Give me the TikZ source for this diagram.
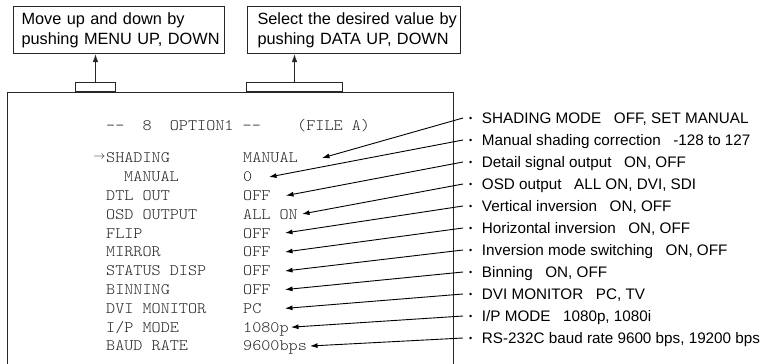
\documentclass[tikz,border=0pt]{standalone}
\usepackage{fontspec}
\setmainfont{Liberation Sans}
\newfontfamily\menufont{lmmonolt10-regular.otf}[FakeStretch=1.083]
\usetikzlibrary{arrows.meta}
\newcommand{\lbul}{\raisebox{1.6pt}{\fontsize{9}{9}\selectfont •}\hspace{9.8pt}}
\begin{document}
\begin{tikzpicture}[x=1pt,y=-1pt,
  frame/.style={line width=1pt, draw=black!85},
  callout/.style={draw=black!85, line width=1pt, anchor=north west, inner ysep=0pt, minimum height=47pt, align=left, font=\fontsize{16.3}{20}\selectfont},
  tabbox/.style={draw=black!85, line width=1pt, anchor=south west, inner sep=0pt, minimum height=9pt},
  up/.style={line width=1pt, draw=black!85, -{Latex[length=8pt,width=5.5pt]}},
  menu/.style={font=\menufont\fontsize{16}{18}\selectfont, inner sep=0pt, anchor=base west, text=black!85},
  lab/.style={font=\fontsize{15.25}{18}\selectfont, inner sep=0pt, outer xsep=6pt, outer ysep=0pt, anchor=base west, text height=13pt, text depth=2pt},
  leader/.style={line width=0.9pt, -{Latex[length=7.5pt,width=5pt]}}
]
\useasboundingbox (0,0) rectangle (777,364);

% callout boxes
\node[callout, inner xsep=8pt, text width=195pt] (b1) at (13,6) {\mbox{Move up and down by}\\\mbox{pushing MENU UP, DOWN}};
\node[callout, inner xsep=10pt, text width=193pt] (b2) at (247,6) {\mbox{Select the desired value by}\\\mbox{pushing DATA UP, DOWN}};

% tabs
\node[tabbox, minimum width=40pt] (tab1) at (75,92) {};
\node[tabbox, minimum width=96pt] (tab2) at (246,92) {};
\draw[up] (tab1.north) -- (b1.south -| tab1.north);
\draw[up] (tab2.north) -- (b2.south -| tab2.north);

% screen frame
\draw[frame] (7,364) -- (7,92) -- (453,92) -- (453,364);

% menu
\node[menu] (title) at (106,130) {{-}{-}\ \ 8\ \ OPTION1\ {-}{-}\ \ \ \ (FILE A)};
\node[inner sep=0pt, anchor=east, font=\fontsize{13}{13}\selectfont, text=black!85] (cur) at (105.5,157) {$\rightarrow$};
\node[menu] (r0) at (106,162.9) {SHADING};
\node[menu] (v0) at (243,162.9) {MANUAL};
\node[menu] (r1) at (124,181.7) {MANUAL};
\node[menu] (v1) at (243,181.7) {0};
\node[menu] (r2) at (106,200.5) {DTL\ OUT};
\node[menu] (v2) at (243,200.5) {OFF};
\node[menu] (r3) at (106,219.3) {OSD\ OUTPUT};
\node[menu] (v3) at (243,219.3) {ALL\ ON};
\node[menu] (r4) at (106,238.1) {FLIP};
\node[menu] (v4) at (243,238.1) {OFF};
\node[menu] (r5) at (106,256.9) {MIRROR};
\node[menu] (v5) at (243,256.9) {OFF};
\node[menu] (r6) at (106,275.7) {STATUS\ DISP};
\node[menu] (v6) at (243,275.7) {OFF};
\node[menu] (r7) at (106,294.5) {BINNING};
\node[menu] (v7) at (243,294.5) {OFF};
\node[menu] (r8) at (106,313.3) {DVI\ MONITOR};
\node[menu] (v8) at (243,313.3) {PC};
\node[menu] (r9) at (106,332.1) {I/P\ MODE};
\node[menu] (v9) at (243,332.1) {1080p};
\node[menu] (r10) at (106,350.9) {BAUD\ RATE};
\node[menu] (v10) at (243,350.9) {9600bps};

% labels
\node[lab] (l0) at (463,123.5) {\lbul SHADING MODE\hspace{12.5pt}OFF, SET MANUAL};
\node[lab] (l1) at (463,145.5) {\lbul Manual shading correction\hspace{12.5pt}-128 to 127};
\node[lab] (l2) at (463,167.5) {\lbul Detail signal output\hspace{12.5pt}ON, OFF};
\node[lab] (l3) at (463,189.5) {\lbul OSD output\hspace{12.5pt}ALL ON, DVI, SDI};
\node[lab] (l4) at (463,211.5) {\lbul Vertical inversion\hspace{12.5pt}ON, OFF};
\node[lab] (l5) at (463,233.5) {\lbul Horizontal inversion\hspace{12.5pt}ON, OFF};
\node[lab] (l6) at (463,255.5) {\lbul Inversion mode switching\hspace{12.5pt}ON, OFF};
\node[lab] (l7) at (463,277.5) {\lbul Binning\hspace{12.5pt}ON, OFF};
\node[lab] (l8) at (463,299.5) {\lbul DVI MONITOR\hspace{12.5pt}PC, TV};
\node[lab] (l9) at (463,321.5) {\lbul I/P MODE\hspace{12.5pt}1080p, 1080i};
\node[lab] (l10) at (463,343.5) {\lbul RS-232C baud rate 9600 bps, 19200 bps};

% arrow tips
\coordinate (t0) at (322,158);
\coordinate (t1) at (269,177);
\coordinate (t2) at (286,195.6);
\coordinate (t3) at (302,214);
\coordinate (t4) at (285,233);
\coordinate (t5) at (285,252);
\coordinate (t6) at (285,271);
\coordinate (t7) at (285,289.6);
\coordinate (t8) at (285,308.4);
\coordinate (t9) at (291,327.2);
\coordinate (t10) at (310,346);

\foreach \i in {0,...,10} {\draw[leader] (l\i.west) -- (t\i);}
\end{tikzpicture}
\end{document}
